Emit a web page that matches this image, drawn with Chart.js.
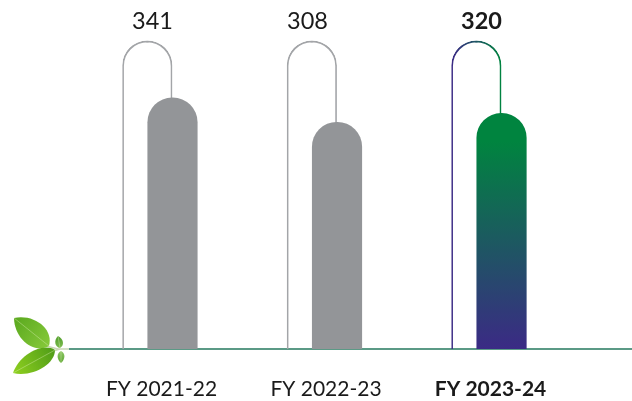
<!DOCTYPE html>
<html>
<head>
<meta charset="utf-8">
<style>
  html, body { margin: 0; padding: 0; background: #fff; }
  #wrap { width: 632px; height: 401px; }
</style>
<script src="https://cdn.jsdelivr.net/npm/chart.js@4"></script>
</head>
<body>
<div id="wrap"><canvas id="myChart" width="632" height="401"></canvas></div>
<script>
var categories = ["FY 2021-22", "FY 2022-23", "FY 2023-24"];
var values = [341, 308, 320];
var archValues = [418.5, 418.5, 418.5];
var labelText = ["341", "308", "320"];
var highlight = 2;

var GREY = '#939598';
var ARCH_GREY = '#a3a5a8';
var PURPLE = '#3b2a85';
var GREEN = '#00843f';

function barFill(ctx) {
    if (ctx.dataIndex !== highlight) return GREY;
    var chart = ctx.chart;
    if (!chart.chartArea) return GREEN;
    var y = chart.scales.y;
    var g = chart.ctx.createLinearGradient(0, y.getPixelForValue(values[highlight]), 0, y.getPixelForValue(0));
    g.addColorStop(0, GREEN);
    g.addColorStop(0.12, GREEN);
    g.addColorStop(1, PURPLE);
    return g;
}

function archBorder(ctx) {
    if (ctx.dataIndex !== highlight) return ARCH_GREY;
    var chart = ctx.chart;
    if (!chart.chartArea) return GREEN;
    var x = chart.scales.x;
    var g = chart.ctx.createLinearGradient(x.getPixelForValue(highlight - 0.3), 0, x.getPixelForValue(highlight), 0);
    g.addColorStop(0, PURPLE);
    g.addColorStop(1, GREEN);
    return g;
}

function leaf(c, x1, y1, x2, y2, bulge, from, to) {
    // x1,y1 is the tip, x2,y2 the stem end
    var dx = x2 - x1, dy = y2 - y1;
    var nx = -dy, ny = dx;
    var g = c.createLinearGradient(x1, y1, x2, y2);
    g.addColorStop(0, from);
    g.addColorStop(1, to);
    c.fillStyle = g;
    c.beginPath();
    c.moveTo(x1, y1);
    c.bezierCurveTo(x1 + dx * 0.3 + nx * bulge, y1 + dy * 0.3 + ny * bulge, x1 + dx * 0.85 + nx * bulge, y1 + dy * 0.85 + ny * bulge, x2, y2);
    c.bezierCurveTo(x1 + dx * 0.85 - nx * bulge, y1 + dy * 0.85 - ny * bulge, x1 + dx * 0.3 - nx * bulge, y1 + dy * 0.3 - ny * bulge, x1, y1);
    c.fill();
    c.strokeStyle = 'rgba(225,245,190,0.55)';
    c.lineWidth = 0.7;
    c.beginPath();
    c.moveTo(x1, y1);
    c.lineTo(x2, y2);
    c.stroke();
}

var decorations = {
    id: 'decorations',
    afterDatasetsDraw: function (chart) {
        var c = chart.ctx;
        var x = chart.scales.x;
        var top = chart.scales.y.getPixelForValue(archValues[0]);
        c.save();
        // value labels sit above the arches
        var labelShift = [-20, -29.5, -20];
        c.textAlign = 'center';
        c.textBaseline = 'middle';
        c.fillStyle = '#1a1a1a';
        labelText.forEach(function (t, i) {
            c.font = (i === highlight ? 'bold ' : '') + '23.5px Lato';
            c.fillText(t, x.getPixelForValue(i) + labelShift[i], top - 19);
        });
        // leaf sprig at the start of the baseline
        c.strokeStyle = '#c9d6b5';
        c.lineWidth = 1.5;
        c.beginPath();
        c.moveTo(46, 346);
        c.lineTo(58, 349);
        c.lineTo(69, 349);
        c.moveTo(53, 351);
        c.lineTo(60, 349);
        c.stroke();
        leaf(c, 14, 318, 49, 346, 0.36, '#5aa81e', '#86c93a');
        leaf(c, 13, 373, 55, 350, 0.27, '#8fd01f', '#4f9c18');
        leaf(c, 58, 336, 60, 348, 0.42, '#4e9c2a', '#7fbd50');
        leaf(c, 61, 363, 61, 351, 0.38, '#5fa833', '#8cc565');
        c.restore();
    }
};

new Chart(document.getElementById('myChart').getContext('2d'), {
    type: 'bar',
    data: {
        datasets: [{
            label: 'Value',
            data: values.map(function (v, i) { return { x: i, y: v }; }),
            backgroundColor: barFill,
            borderWidth: 0,
            borderRadius: { topLeft: 25, topRight: 25, bottomLeft: 0, bottomRight: 0 },
            barThickness: 49.5,
            grouped: false,
            order: 1
        }, {
            label: 'Arch',
            data: archValues.map(function (v, i) { return { x: i - 0.153, y: v }; }),
            backgroundColor: 'rgba(0,0,0,0)',
            borderColor: archBorder,
            borderWidth: 1,
            borderSkipped: 'bottom',
            borderRadius: { topLeft: 25, topRight: 25, bottomLeft: 0, bottomRight: 0 },
            barThickness: 49.5,
            grouped: false,
            order: 2
        }]
    },
    options: {
        responsive: false,
        animation: false,
        layout: { padding: { left: 70 } },
        plugins: { legend: { display: false }, tooltip: { enabled: false } },
        scales: {
            x: {
                type: 'linear',
                offset: false,
                min: -0.623,
                max: 2.793,
                afterBuildTicks: function (scale) {
                    scale.ticks = categories.map(function (c, i) { return { value: i }; });
                },
                afterFit: function (scale) { scale.height = 52; },
                grid: { display: false, drawTicks: false },
                border: { display: true, color: '#5b9a86', width: 2 },
                ticks: {
                    autoSkip: false,
                    maxRotation: 0,
                    padding: 28,
                    labelOffset: -11,
                    color: '#1a1a1a',
                    font: function (ctx) {
                        return { family: 'Lato', size: 21, weight: ctx.index === highlight ? 'bold' : 'normal' };
                    },
                    callback: function (v) { return categories[v]; }
                }
            },
            y: {
                display: false,
                min: 0,
                max: 474
            }
        }
    },
    plugins: [decorations]
});
</script>
</body>
</html>
